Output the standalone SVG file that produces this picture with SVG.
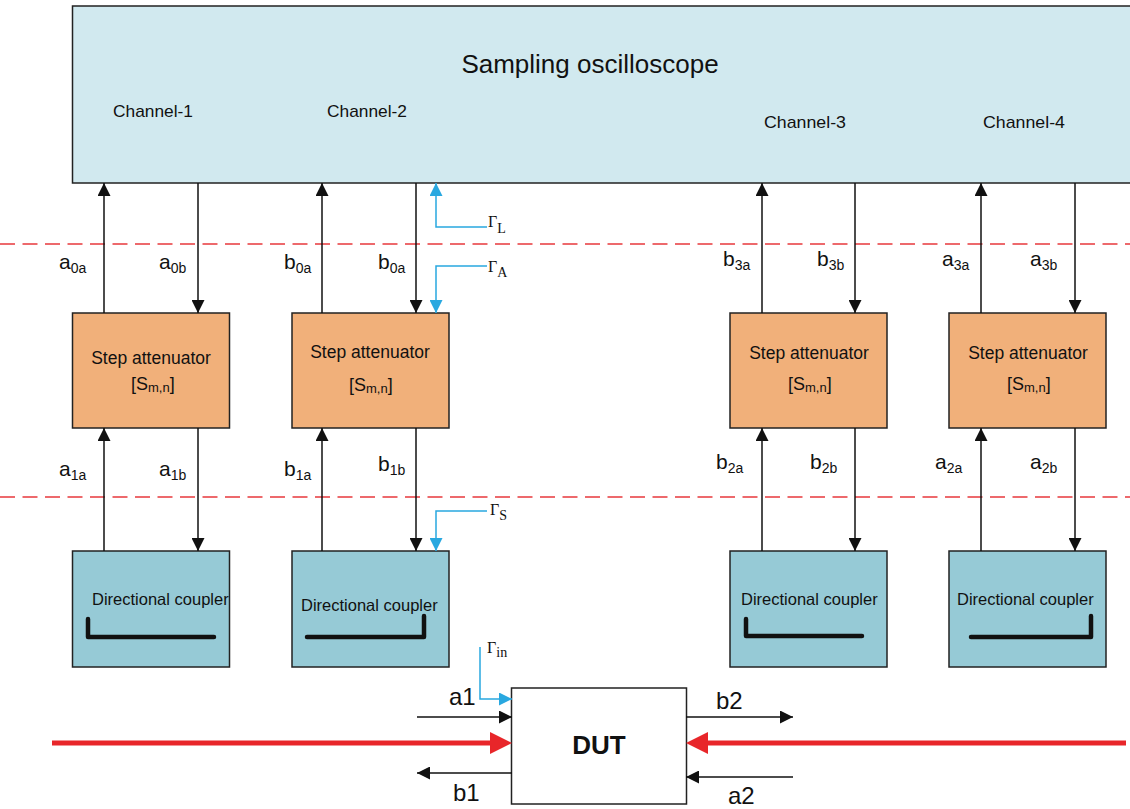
<svg xmlns="http://www.w3.org/2000/svg" width="1130" height="809" viewBox="0 0 1130 809">
<style>
text{font-family:"Liberation Sans",Arial,sans-serif;fill:#111}
.box{stroke:#222;stroke-width:1.5}
.scope{fill:#d1e9ef}
.att{fill:#f1b07a}
.cpl{fill:#96cad6}
.dut{fill:#fff}
.ch{font-size:17px}
.st{font-size:17.5px}
.dc{font-size:16.5px}
.lbl{font-size:21px}
.sub{font-size:14px}
.big{font-size:24px}
.g{font-family:"Liberation Serif","Times New Roman",serif;font-size:16px}
.gs{font-size:14px}
.ln{stroke:#111;stroke-width:1.5;fill:none}
.bl{stroke:#29a8e0;stroke-width:1.5;fill:none}
.dash{stroke:#e8383d;stroke-width:1.5;stroke-dasharray:15 7.5;fill:none}
.red{stroke:#e8262a;stroke-width:5;fill:none}
.brk{stroke:#111;stroke-width:4.5;fill:none;stroke-linecap:round;stroke-linejoin:round}
</style>
<defs>
<marker id="ab" viewBox="0 0 13 13" refX="13" refY="6.5" markerWidth="13" markerHeight="13" markerUnits="userSpaceOnUse" orient="auto"><path d="M0,0 L13,6.5 L0,13 z" fill="#111"/></marker>
<marker id="abl" viewBox="0 0 13 13" refX="13" refY="6.5" markerWidth="13" markerHeight="13" markerUnits="userSpaceOnUse" orient="auto"><path d="M0,0 L13,6.5 L0,13 z" fill="#29a8e0"/></marker>
<marker id="ar" viewBox="0 0 22 22" refX="10" refY="11" markerWidth="22" markerHeight="22" markerUnits="userSpaceOnUse" orient="auto"><path d="M0,0 L22,11 L0,22 z" fill="#e8262a"/></marker>
</defs>

<g id="scope">
<rect class="box scope" x="72.5" y="6" width="1070" height="177"/>
<text x="590" y="73" text-anchor="middle" style="font-size:26px">Sampling oscilloscope</text>
<text class="ch" x="113" y="117" textLength="80" lengthAdjust="spacingAndGlyphs">Channel-1</text>
<text class="ch" x="327" y="117" textLength="80" lengthAdjust="spacingAndGlyphs">Channel-2</text>
<text class="ch" x="764" y="128" textLength="82" lengthAdjust="spacingAndGlyphs">Channel-3</text>
<text class="ch" x="983" y="128" textLength="82" lengthAdjust="spacingAndGlyphs">Channel-4</text>
</g>

<g id="refplanes">
<line class="dash" x1="0" y1="244" x2="1130" y2="244"/>
<line class="dash" x1="0" y1="497" x2="1130" y2="497"/>
</g>

<g id="att1">
<rect class="box att" x="72.5" y="313" width="157" height="115"/>
<text class="st" x="151" y="364" text-anchor="middle">Step attenuator</text>
<text x="131" y="390" style="font-size:18px">[S<tspan style="font-size:13px" dy="2">m,n</tspan><tspan dy="-2">]</tspan></text>
</g>
<g id="att2">
<rect class="box att" x="292" y="313" width="157" height="115"/>
<text class="st" x="370" y="358" text-anchor="middle">Step attenuator</text>
<text x="349" y="391" style="font-size:18px">[S<tspan style="font-size:13px" dy="2">m,n</tspan><tspan dy="-2">]</tspan></text>
</g>
<g id="att3">
<rect class="box att" x="730" y="313" width="157" height="115"/>
<text class="st" x="809" y="359" text-anchor="middle">Step attenuator</text>
<text x="788" y="390" style="font-size:18px">[S<tspan style="font-size:13px" dy="2">m,n</tspan><tspan dy="-2">]</tspan></text>
</g>
<g id="att4">
<rect class="box att" x="949" y="313" width="157" height="115"/>
<text class="st" x="1028" y="359" text-anchor="middle">Step attenuator</text>
<text x="1007" y="390" style="font-size:18px">[S<tspan style="font-size:13px" dy="2">m,n</tspan><tspan dy="-2">]</tspan></text>
</g>

<g id="cpl1">
<rect class="box cpl" x="72.5" y="551" width="157" height="116"/>
<text class="dc" x="92" y="605">Directional coupler</text>
<path class="brk" d="M88,619 V637 H214"/>
</g>
<g id="cpl2">
<rect class="box cpl" x="292" y="551" width="157" height="116"/>
<text class="dc" x="301" y="611">Directional coupler</text>
<path class="brk" d="M307,637 H424 V616"/>
</g>
<g id="cpl3">
<rect class="box cpl" x="730" y="551" width="157" height="116"/>
<text class="dc" x="741" y="605">Directional coupler</text>
<path class="brk" d="M746,619 V636 H862"/>
</g>
<g id="cpl4">
<rect class="box cpl" x="949" y="551" width="157" height="116"/>
<text class="dc" x="957" y="605">Directional coupler</text>
<path class="brk" d="M971,637 H1091 V616"/>
</g>

<g id="dut">
<rect class="box dut" x="511.5" y="688" width="175" height="116"/>
<text x="599" y="754" text-anchor="middle" style="font-size:26px;font-weight:bold">DUT</text>
</g>

<g id="connectors">
<!-- upper -->
<line class="ln" x1="104" y1="313" x2="104" y2="183" marker-end="url(#ab)"/>
<line class="ln" x1="198" y1="183" x2="198" y2="313" marker-end="url(#ab)"/>
<line class="ln" x1="322" y1="313" x2="322" y2="183" marker-end="url(#ab)"/>
<line class="ln" x1="416" y1="183" x2="416" y2="313" marker-end="url(#ab)"/>
<line class="ln" x1="762" y1="313" x2="762" y2="183" marker-end="url(#ab)"/>
<line class="ln" x1="855" y1="183" x2="855" y2="313" marker-end="url(#ab)"/>
<line class="ln" x1="981" y1="313" x2="981" y2="183" marker-end="url(#ab)"/>
<line class="ln" x1="1075" y1="183" x2="1075" y2="313" marker-end="url(#ab)"/>
<!-- lower -->
<line class="ln" x1="104" y1="551" x2="104" y2="428" marker-end="url(#ab)"/>
<line class="ln" x1="198" y1="428" x2="198" y2="551" marker-end="url(#ab)"/>
<line class="ln" x1="322" y1="551" x2="322" y2="428" marker-end="url(#ab)"/>
<line class="ln" x1="416" y1="428" x2="416" y2="551" marker-end="url(#ab)"/>
<line class="ln" x1="762" y1="551" x2="762" y2="428" marker-end="url(#ab)"/>
<line class="ln" x1="855" y1="428" x2="855" y2="551" marker-end="url(#ab)"/>
<line class="ln" x1="981" y1="551" x2="981" y2="428" marker-end="url(#ab)"/>
<line class="ln" x1="1075" y1="428" x2="1075" y2="551" marker-end="url(#ab)"/>
<!-- blue reflection indicators -->
<path class="bl" d="M487,227 H436 V183" marker-end="url(#abl)"/>
<path class="bl" d="M487,266 H436 V313" marker-end="url(#abl)"/>
<path class="bl" d="M487,511 H436 V551" marker-end="url(#abl)"/>
<path class="bl" d="M480,647 V699 H512" marker-end="url(#abl)"/>
<!-- DUT waves -->
<line class="ln" x1="417" y1="717" x2="512" y2="717" marker-end="url(#ab)"/>
<line class="ln" x1="512" y1="773" x2="417" y2="773" marker-end="url(#ab)"/>
<line class="ln" x1="686" y1="717" x2="793" y2="717" marker-end="url(#ab)"/>
<line class="ln" x1="793" y1="777" x2="686" y2="777" marker-end="url(#ab)"/>
<line class="red" x1="52" y1="743" x2="500" y2="743" marker-end="url(#ar)"/>
<line class="red" x1="1126" y1="743" x2="698" y2="743" marker-end="url(#ar)"/>
</g>

<g id="labels">
<text class="lbl" x="59" y="269">a<tspan class="sub" dy="4">0a</tspan></text>
<text class="lbl" x="159" y="269">a<tspan class="sub" dy="4">0b</tspan></text>
<text class="lbl" x="284" y="269">b<tspan class="sub" dy="4">0a</tspan></text>
<text class="lbl" x="378" y="269">b<tspan class="sub" dy="4">0a</tspan></text>
<text class="lbl" x="723" y="266">b<tspan class="sub" dy="4">3a</tspan></text>
<text class="lbl" x="817" y="266">b<tspan class="sub" dy="4">3b</tspan></text>
<text class="lbl" x="942" y="266">a<tspan class="sub" dy="4">3a</tspan></text>
<text class="lbl" x="1030" y="266">a<tspan class="sub" dy="4">3b</tspan></text>
<text class="lbl" x="59" y="476">a<tspan class="sub" dy="4">1a</tspan></text>
<text class="lbl" x="159" y="476">a<tspan class="sub" dy="4">1b</tspan></text>
<text class="lbl" x="284" y="476">b<tspan class="sub" dy="4">1a</tspan></text>
<text class="lbl" x="378" y="471">b<tspan class="sub" dy="4">1b</tspan></text>
<text class="lbl" x="716" y="469">b<tspan class="sub" dy="4">2a</tspan></text>
<text class="lbl" x="810" y="469">b<tspan class="sub" dy="4">2b</tspan></text>
<text class="lbl" x="935" y="469">a<tspan class="sub" dy="4">2a</tspan></text>
<text class="lbl" x="1030" y="469">a<tspan class="sub" dy="4">2b</tspan></text>
<text class="g" x="488" y="227">Γ<tspan class="gs" dy="6">L</tspan></text>
<text class="g" x="488" y="272">Γ<tspan class="gs" dy="5">A</tspan></text>
<text class="g" x="490" y="515">Γ<tspan class="gs" dy="5">S</tspan></text>
<text class="g" x="487" y="653">Γ<tspan class="gs" dy="4">in</tspan></text>
<text class="big" x="449" y="705">a1</text>
<text class="big" x="453" y="801">b1</text>
<text class="big" x="716" y="709">b2</text>
<text class="big" x="728" y="804">a2</text>
</g>
</svg>
